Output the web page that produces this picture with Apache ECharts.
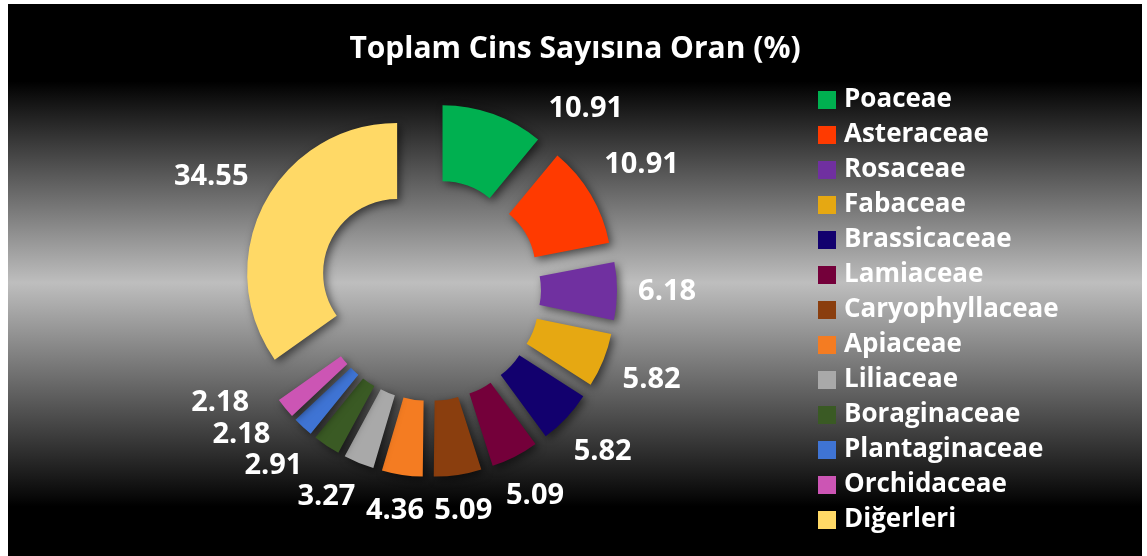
<!DOCTYPE html>
<html>
<head>
<meta charset="utf-8">
<script src="https://cdn.jsdelivr.net/npm/echarts@6/dist/echarts.min.js"></script>
<style>
html,body{margin:0;padding:0;background:#fff;}
#c{position:absolute;left:8px;top:4px;width:1134px;height:552px;}
</style>
</head>
<body>
<div id="c"></div>
<script>
const titleText = 'Toplam Cins Sayısına Oran (%)';
const categories = ['Poaceae','Asteraceae','Rosaceae','Fabaceae','Brassicaceae','Lamiaceae','Caryophyllaceae','Apiaceae','Liliaceae','Boraginaceae','Plantaginaceae','Orchidaceae','Diğerleri'];
const values = [10.91,10.91,6.18,5.82,5.82,5.09,5.09,4.36,3.27,2.91,2.18,2.18,34.55];
const colors = ['#00B050','#FF3A00','#7030A0','#E6A812','#12006E','#74003A','#8A3E0E','#F47C22','#A9A9A9','#3A5A24','#3F74D4','#CC55B4','#FFD966'];

const FONT = '"Open Sans", Lato, sans-serif';
const LABEL_SIZE = 29;
const TITLE_SIZE = 30, TITLE_TOP = 30;
const CENTER = [422, 286];
const R_IN = 74, R_OUT = 150, OFFSET = 37, GAP = 21;

// label anchor positions derived from the data (slice bisector angles), spreading overlapping labels
const total = values.reduce((a, b) => a + b, 0);
const cv = document.createElement('canvas').getContext('2d');
cv.font = 'bold ' + LABEL_SIZE + 'px "Open Sans"';
const labelShift = [];
(function () {
  let acc = 0;
  const info = values.map(v => {
    const a = (acc + v / 2) / total * 360; acc += v;
    return {bis: a, ang: a, w: cv.measureText(v.toFixed(2)).width, h: LABEL_SIZE * 0.78};
  });
  const place = d => {
    const rb = d.bis * Math.PI / 180, rl = d.ang * Math.PI / 180;
    const s = Math.sin(rl), c = Math.cos(rl);
    const ext = Math.abs(s) * d.w / 2 + Math.abs(c) * d.h / 2;
    const dist = R_OUT + GAP + ext;
    d.ox = Math.sin(rb) * OFFSET; d.oy = -Math.cos(rb) * OFFSET;
    d.x = CENTER[0] + d.ox + s * dist;
    d.y = CENTER[1] + d.oy - c * dist;
  };
  const titleBottom = TITLE_TOP + TITLE_SIZE * 1.1;
  const hit = (a, b) => Math.abs(a.x - b.x) < (a.w + b.w) / 2 + 10 && Math.abs(a.y - b.y) < (a.h + b.h) / 2 + 8;
  info.forEach((d, i) => {
    place(d);
    let n = 0;
    while (((i > 0 && hit(d, info[i - 1])) || (d.y - d.h / 2 < titleBottom + 30)) && n < 300) { d.ang += 0.5; place(d); n++; }
  });
  // the library moves each label together with its exploded slice, so keep the slice-local position
  info.forEach(d => labelShift.push([d.x - d.ox, d.y - d.oy]));
})();

const chart = echarts.init(document.getElementById('c'));
chart.setOption({
  backgroundColor: {
    type: 'linear', x: 0, y: 0, x2: 0, y2: 1,
    colorStops: [
      {offset: 0, color: '#000'},
      {offset: 0.14, color: '#000'},
      {offset: 0.505, color: '#bebebe'},
      {offset: 0.89, color: '#0a0a0a'},
      {offset: 0.91, color: '#000'},
      {offset: 1, color: '#000'}
    ]
  },
  animation: false,
  title: {
    text: titleText, left: 'center', top: TITLE_TOP, padding: 0,
    textStyle: {color: '#fff', fontFamily: FONT, fontWeight: 'bold', fontSize: TITLE_SIZE}
  },
  legend: {
    orient: 'vertical', left: 810, top: 83, padding: 0, height: 469,
    itemWidth: 18, itemHeight: 18, itemGap: 9, icon: 'rect',
    selectedMode: false,
    textStyle: {color: '#fff', fontFamily: FONT, fontWeight: 'bold', fontSize: 26, padding: [0,0,0,3]},
    data: categories
  },
  series: [{
    type: 'pie',
    center: CENTER,
    radius: [R_IN, R_OUT],
    startAngle: 90,
    clockwise: true,
    selectedMode: 'multiple',
    selectedOffset: OFFSET,
    avoidLabelOverlap: false,
    emphasis: {disabled: true},
    itemStyle: {shadowBlur: 8, shadowOffsetX: 3, shadowOffsetY: 3, shadowColor: 'rgba(0,0,0,0.55)'},
    label: {
      show: true, position: 'outside', color: '#fff', fontFamily: FONT, fontWeight: 'bold', fontSize: LABEL_SIZE,
      formatter: p => p.value.toFixed(2)
    },
    labelLine: {show: false, length: 10, length2: 0},
    labelLayout: p => {
      const r = p.labelRect, t = labelShift[p.dataIndex];
      return {dx: t[0] - (r.x + r.width / 2), dy: t[1] - (r.y + r.height / 2)};
    },
    data: categories.map((n, i) => ({name: n, value: values[i], selected: true, itemStyle: {color: colors[i]}}))
  }]
});
</script>
</body>
</html>
